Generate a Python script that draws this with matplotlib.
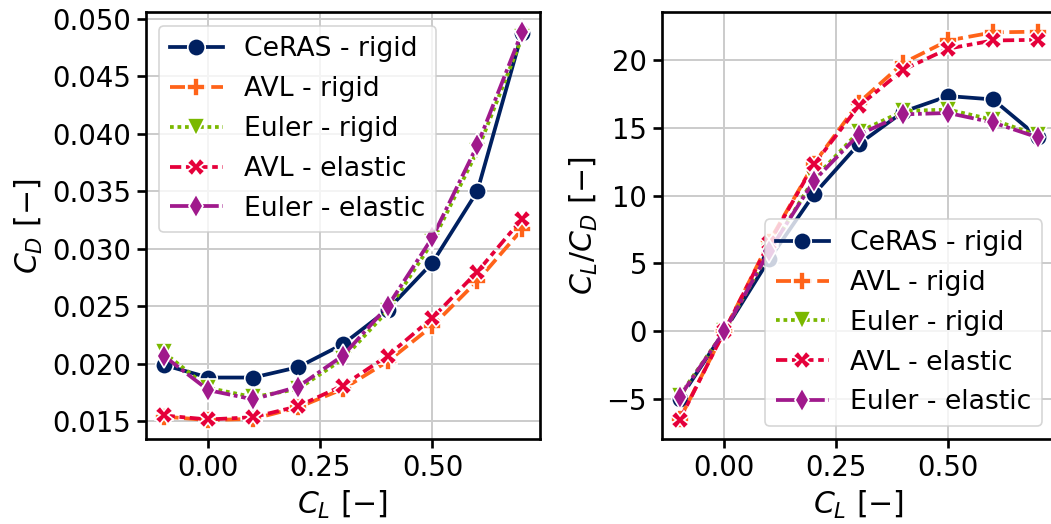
import matplotlib
matplotlib.use("Agg")
import matplotlib.pyplot as plt
from matplotlib.ticker import MultipleLocator, FormatStrFormatter

# Lift coefficient sweep
cl = [-0.1, 0.0, 0.1, 0.2, 0.3, 0.4, 0.5, 0.6, 0.7]

# Drag coefficient per configuration
cd_ceras_rigid = [0.0199, 0.0188, 0.0188, 0.0197, 0.0217, 0.0247, 0.0288, 0.0350, 0.0488]
cd_avl_rigid = [0.0154, 0.0151, 0.0152, 0.0162, 0.0178, 0.0202, 0.0233, 0.0272, 0.0317]
cd_euler_rigid = [0.0210, 0.0179, 0.0171, 0.0178, 0.0204, 0.0246, 0.0306, 0.0385, 0.0484]
cd_avl_elastic = [0.0155, 0.01515, 0.01535, 0.0163, 0.0181, 0.0207, 0.0240, 0.0280, 0.0326]
cd_euler_elastic = [0.0207, 0.0177, 0.0169, 0.0180, 0.0207, 0.0250, 0.0310, 0.0390, 0.0489]

# Lift-to-drag ratio per configuration
ld_ceras_rigid = [-5.0, 0.0, 5.3, 10.1, 13.8, 16.2, 17.35, 17.1, 14.35]
ld_avl_rigid = [-6.5, 0.0, 6.6, 12.35, 16.85, 19.8, 21.45, 22.05, 22.1]
ld_euler_rigid = [-4.76, 0.0, 5.85, 11.25, 14.7, 16.25, 16.35, 15.6, 14.45]
ld_avl_elastic = [-6.56, 0.0, 6.5, 12.3, 16.6, 19.3, 20.85, 21.45, 21.5]
ld_euler_elastic = [-4.84, 0.0, 5.9, 11.1, 14.5, 16.0, 16.1, 15.4, 14.3]

labels = ["CeRAS - rigid", "AVL - rigid", "Euler - rigid", "AVL - elastic", "Euler - elastic"]
colors = ["#002060", "#FF6319", "#7AB800", "#E5003A", "#A0198C"]
markers = ["o", "P", "v", "X", "d"]
dashes = [None, (4, 1.5), (1, 1), (3, 1.25, 1.5, 1.25), (5, 1, 1, 1)]

cd_series = [cd_ceras_rigid, cd_avl_rigid, cd_euler_rigid, cd_avl_elastic, cd_euler_elastic]
ld_series = [ld_ceras_rigid, ld_avl_rigid, ld_euler_rigid, ld_avl_elastic, ld_euler_elastic]

plt.rcParams.update({
    "font.family": "DejaVu Sans",
    "font.size": 16.5,
    "axes.linewidth": 1.6,
    "xtick.major.width": 1.6,
    "ytick.major.width": 1.6,
    "xtick.major.size": 5.4,
    "ytick.major.size": 5.4,
    "xtick.labelsize": 16.5,
    "ytick.labelsize": 16.5,
    "legend.fontsize": 16,
    "legend.labelspacing": 0.52,
    "axes.labelsize": 18,
})

fig = plt.figure(figsize=(1051 / 120, 524 / 120), dpi=120)
ax1 = fig.add_axes([0.1386, 0.1613, 0.3752, 0.8153])
ax2 = fig.add_axes([0.6296, 0.1613, 0.3748, 0.8153])


def draw(ax, series):
    for ys, lab, col, mk, ds in zip(series, labels, colors, markers, dashes):
        line, = ax.plot(cl, ys, color=col, marker=mk, lw=2.25, ms=10.5,
                        mec="white", mew=1.0, label=lab)
        if ds is not None:
            line.set_dashes(ds)
    ax.set_axisbelow(True)
    ax.grid(True, color="#cccccc", lw=1.2)
    ax.xaxis.set_major_locator(MultipleLocator(0.25))
    ax.xaxis.set_major_formatter(FormatStrFormatter("%.2f"))
    ax.set_xlabel(r"$C_L$ $[-]$")


draw(ax1, cd_series)
ax1.yaxis.set_major_locator(MultipleLocator(0.005))
ax1.yaxis.set_major_formatter(FormatStrFormatter("%.3f"))
ax1.set_ylabel(r"$C_D$ $[-]$")
ax1.legend(loc="upper left")

draw(ax2, ld_series)
ax2.yaxis.set_major_locator(MultipleLocator(5))
ax2.set_ylabel(r"$C_L/C_D$ $[-]$")
ax2.legend(loc="lower right")

fig.savefig("out.png", dpi=120)
